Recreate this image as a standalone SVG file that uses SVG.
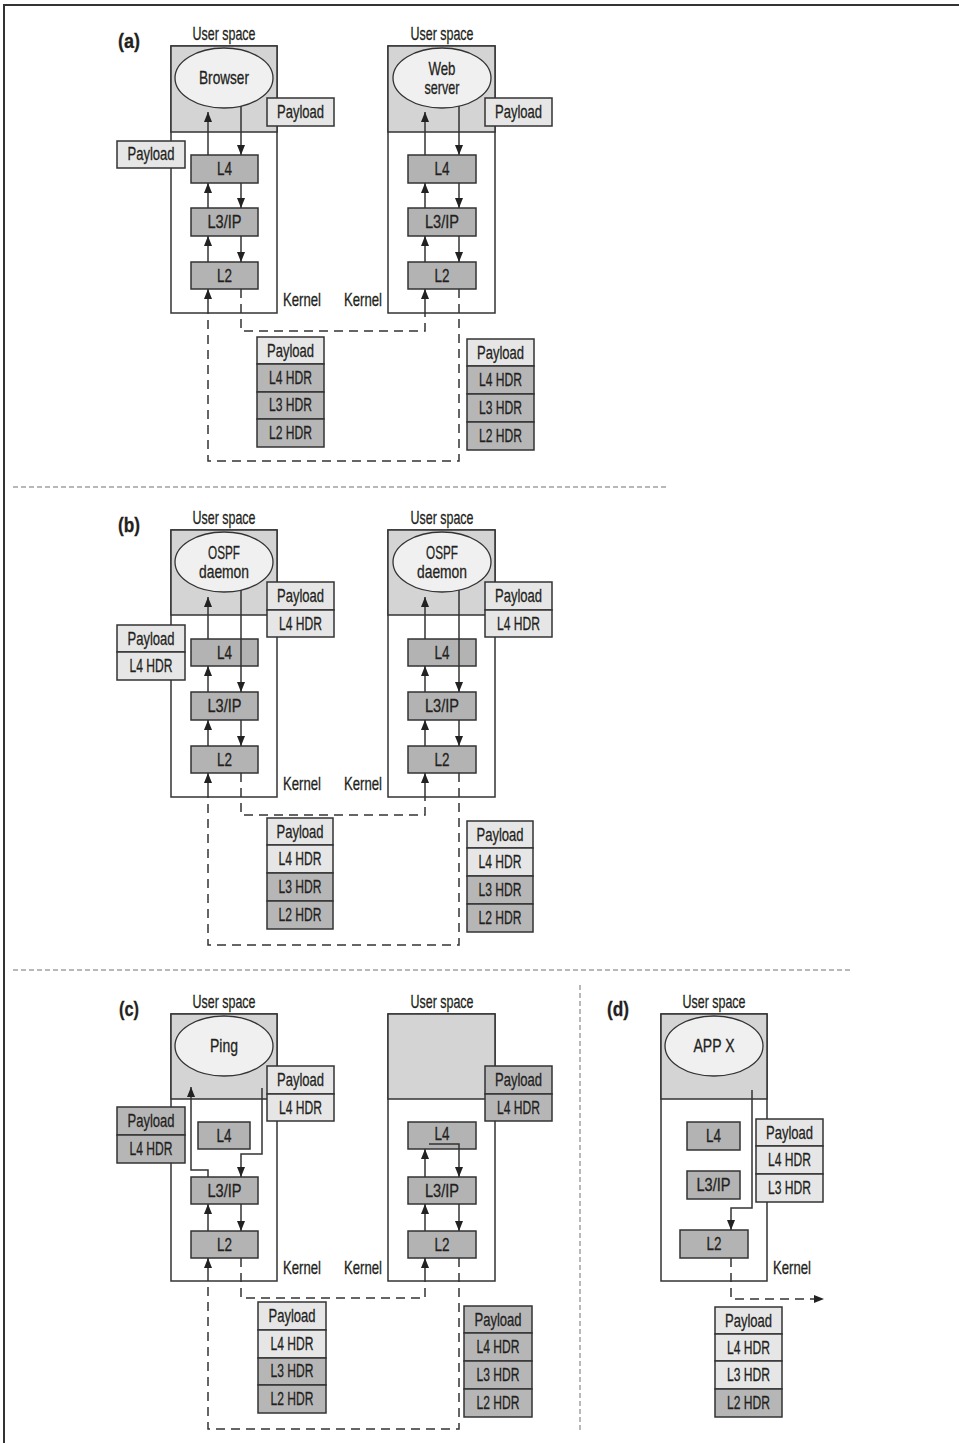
<svg xmlns="http://www.w3.org/2000/svg" width="959" height="1443" viewBox="0 0 959 1443">
<defs>
<style>
.bg{fill:#fff}
.k{fill:#fff;stroke:#333;stroke-width:1.5}
.us{fill:#d4d4d4;stroke:#333;stroke-width:1.5}
.ell{fill:#f0f0f0;stroke:#333;stroke-width:1.3}
.lay{fill:#b3b3b3;stroke:#333;stroke-width:1.5}
.lt{fill:#e6e6e6;stroke:#333;stroke-width:1.5}
.dk{fill:#b6b6b6;stroke:#333;stroke-width:1.5}
.ln{fill:none;stroke:#333;stroke-width:1.5}
.dash{fill:none;stroke:#333;stroke-width:1.5;stroke-dasharray:9 6}
.sep{fill:none;stroke:#b8b8b8;stroke-width:2;stroke-dasharray:5 3}
.frame{fill:none;stroke:#333;stroke-width:2}
text{font-family:"Liberation Sans",Arial,sans-serif;font-size:18.5px;fill:#231f20;stroke:#231f20;stroke-width:0.3;text-anchor:middle}
.lbl{font-weight:bold;font-size:20px}
</style>
<marker id="ah" markerUnits="userSpaceOnUse" markerWidth="10" markerHeight="8" viewBox="0 0 10 8" refX="10" refY="4" orient="auto">
<path d="M0,0 L10,4 L0,8 z" fill="#222"/>
</marker>
</defs>
<rect class="bg" x="0" y="0" width="959" height="1443"/>
<path class="frame" d="M4,1443 V5 H959"/>

<g id="separators">
<line class="sep" x1="13" y1="487" x2="668" y2="487"/>
<line class="sep" x1="13" y1="970" x2="852" y2="970"/>
<line class="sep" x1="580" y1="985" x2="580" y2="1433"/>
</g>

<!-- ============ (a) ============ -->
<g id="a-label"><text class="lbl" x="129" y="48" textLength="22" lengthAdjust="spacingAndGlyphs">(a)</text></g>
<g id="a-host1">
<text x="224" y="40" textLength="63" lengthAdjust="spacingAndGlyphs">User space</text>
<rect class="k" x="171" y="46" width="106" height="267"/>
<rect class="us" x="171" y="46" width="106" height="86"/>
<ellipse class="ell" cx="224" cy="78" rx="49" ry="30"/>
<text x="224" y="84" textLength="50" lengthAdjust="spacingAndGlyphs">Browser</text>
<text x="302" y="306" textLength="38" lengthAdjust="spacingAndGlyphs">Kernel</text>
</g>
<g id="a-host2">
<text x="442" y="40" textLength="63" lengthAdjust="spacingAndGlyphs">User space</text>
<rect class="k" x="388" y="46" width="107" height="267"/>
<rect class="us" x="388" y="46" width="107" height="86"/>
<ellipse class="ell" cx="442" cy="78" rx="49" ry="30"/>
<text x="442" y="75" textLength="27" lengthAdjust="spacingAndGlyphs">Web</text>
<text x="442" y="94" textLength="35" lengthAdjust="spacingAndGlyphs">server</text>
<text x="363" y="306" textLength="38" lengthAdjust="spacingAndGlyphs">Kernel</text>
</g>
<g id="a-l4-1"><rect class="lay" x="191" y="155" width="67" height="28"/><text x="224.5" y="175" textLength="15" lengthAdjust="spacingAndGlyphs">L4</text></g>
<g id="a-l3-1"><rect class="lay" x="191" y="208" width="67" height="28"/><text x="224.5" y="228" textLength="34" lengthAdjust="spacingAndGlyphs">L3/IP</text></g>
<g id="a-l2-1"><rect class="lay" x="191" y="262" width="67" height="27"/><text x="224.5" y="282" textLength="15" lengthAdjust="spacingAndGlyphs">L2</text></g>
<g id="a-l4-2"><rect class="lay" x="408" y="155" width="68" height="28"/><text x="442" y="175" textLength="15" lengthAdjust="spacingAndGlyphs">L4</text></g>
<g id="a-l3-2"><rect class="lay" x="408" y="208" width="68" height="28"/><text x="442" y="228" textLength="34" lengthAdjust="spacingAndGlyphs">L3/IP</text></g>
<g id="a-l2-2"><rect class="lay" x="408" y="262" width="68" height="27"/><text x="442" y="282" textLength="15" lengthAdjust="spacingAndGlyphs">L2</text></g>
<g id="a-pl-user1"><rect class="lt" x="267" y="98" width="67" height="28"/><text x="300.5" y="118" textLength="47" lengthAdjust="spacingAndGlyphs">Payload</text></g>
<g id="a-pl-left"><rect class="lt" x="117" y="141" width="68" height="27"/><text x="151" y="160" textLength="47" lengthAdjust="spacingAndGlyphs">Payload</text></g>
<g id="a-pl-user2"><rect class="lt" x="485" y="98" width="67" height="28"/><text x="518.5" y="118" textLength="47" lengthAdjust="spacingAndGlyphs">Payload</text></g>
<g id="a-stack1">
<rect class="lt" x="257" y="337" width="67" height="27"/><text x="290.5" y="357" textLength="47" lengthAdjust="spacingAndGlyphs">Payload</text>
<rect class="dk" x="257" y="364" width="67" height="28"/><text x="290.5" y="384" textLength="43" lengthAdjust="spacingAndGlyphs">L4 HDR</text>
<rect class="dk" x="257" y="392" width="67" height="27"/><text x="290.5" y="411" textLength="43" lengthAdjust="spacingAndGlyphs">L3 HDR</text>
<rect class="dk" x="257" y="419" width="67" height="28"/><text x="290.5" y="439" textLength="43" lengthAdjust="spacingAndGlyphs">L2 HDR</text>
</g>
<g id="a-stack2">
<rect class="lt" x="467" y="339" width="67" height="27"/><text x="500.5" y="359" textLength="47" lengthAdjust="spacingAndGlyphs">Payload</text>
<rect class="dk" x="467" y="366" width="67" height="28"/><text x="500.5" y="386" textLength="43" lengthAdjust="spacingAndGlyphs">L4 HDR</text>
<rect class="dk" x="467" y="394" width="67" height="28"/><text x="500.5" y="414" textLength="43" lengthAdjust="spacingAndGlyphs">L3 HDR</text>
<rect class="dk" x="467" y="422" width="67" height="28"/><text x="500.5" y="442" textLength="43" lengthAdjust="spacingAndGlyphs">L2 HDR</text>
</g>

<!-- ============ (b) ============ -->
<g id="b-label"><text class="lbl" x="129" y="532" textLength="22" lengthAdjust="spacingAndGlyphs">(b)</text></g>
<g id="b-host1">
<text x="224" y="524" textLength="63" lengthAdjust="spacingAndGlyphs">User space</text>
<rect class="k" x="171" y="530" width="106" height="267"/>
<rect class="us" x="171" y="530" width="106" height="85"/>
<ellipse class="ell" cx="224" cy="562" rx="49" ry="30"/>
<text x="224" y="559" textLength="32" lengthAdjust="spacingAndGlyphs">OSPF</text>
<text x="224" y="578" textLength="50" lengthAdjust="spacingAndGlyphs">daemon</text>
<text x="302" y="790" textLength="38" lengthAdjust="spacingAndGlyphs">Kernel</text>
</g>
<g id="b-host2">
<text x="442" y="524" textLength="63" lengthAdjust="spacingAndGlyphs">User space</text>
<rect class="k" x="388" y="530" width="107" height="267"/>
<rect class="us" x="388" y="530" width="107" height="85"/>
<ellipse class="ell" cx="442" cy="562" rx="49" ry="30"/>
<text x="442" y="559" textLength="32" lengthAdjust="spacingAndGlyphs">OSPF</text>
<text x="442" y="578" textLength="50" lengthAdjust="spacingAndGlyphs">daemon</text>
<text x="363" y="790" textLength="38" lengthAdjust="spacingAndGlyphs">Kernel</text>
</g>
<g id="b-l4-1"><rect class="lay" x="191" y="639" width="67" height="27"/><text x="224.5" y="659" textLength="15" lengthAdjust="spacingAndGlyphs">L4</text></g>
<g id="b-l3-1"><rect class="lay" x="191" y="692" width="67" height="28"/><text x="224.5" y="712" textLength="34" lengthAdjust="spacingAndGlyphs">L3/IP</text></g>
<g id="b-l2-1"><rect class="lay" x="191" y="746" width="67" height="27"/><text x="224.5" y="766" textLength="15" lengthAdjust="spacingAndGlyphs">L2</text></g>
<g id="b-l4-2"><rect class="lay" x="408" y="639" width="68" height="27"/><text x="442" y="659" textLength="15" lengthAdjust="spacingAndGlyphs">L4</text></g>
<g id="b-l3-2"><rect class="lay" x="408" y="692" width="68" height="28"/><text x="442" y="712" textLength="34" lengthAdjust="spacingAndGlyphs">L3/IP</text></g>
<g id="b-l2-2"><rect class="lay" x="408" y="746" width="68" height="27"/><text x="442" y="766" textLength="15" lengthAdjust="spacingAndGlyphs">L2</text></g>
<g id="b-pl-user1">
<rect class="lt" x="267" y="582" width="67" height="28"/><text x="300.5" y="602" textLength="47" lengthAdjust="spacingAndGlyphs">Payload</text>
<rect class="lt" x="267" y="610" width="67" height="27"/><text x="300.5" y="630" textLength="43" lengthAdjust="spacingAndGlyphs">L4 HDR</text>
</g>
<g id="b-pl-left">
<rect class="lt" x="117" y="625" width="68" height="27"/><text x="151" y="645" textLength="47" lengthAdjust="spacingAndGlyphs">Payload</text>
<rect class="lt" x="117" y="652" width="68" height="28"/><text x="151" y="672" textLength="43" lengthAdjust="spacingAndGlyphs">L4 HDR</text>
</g>
<g id="b-pl-user2">
<rect class="lt" x="485" y="582" width="67" height="28"/><text x="518.5" y="602" textLength="47" lengthAdjust="spacingAndGlyphs">Payload</text>
<rect class="lt" x="485" y="610" width="67" height="27"/><text x="518.5" y="630" textLength="43" lengthAdjust="spacingAndGlyphs">L4 HDR</text>
</g>
<g id="b-stack1">
<rect class="lt" x="267" y="818" width="66" height="27"/><text x="300" y="838" textLength="47" lengthAdjust="spacingAndGlyphs">Payload</text>
<rect class="lt" x="267" y="845" width="66" height="28"/><text x="300" y="865" textLength="43" lengthAdjust="spacingAndGlyphs">L4 HDR</text>
<rect class="dk" x="267" y="873" width="66" height="28"/><text x="300" y="893" textLength="43" lengthAdjust="spacingAndGlyphs">L3 HDR</text>
<rect class="dk" x="267" y="901" width="66" height="28"/><text x="300" y="921" textLength="43" lengthAdjust="spacingAndGlyphs">L2 HDR</text>
</g>
<g id="b-stack2">
<rect class="lt" x="467" y="821" width="66" height="27"/><text x="500" y="841" textLength="47" lengthAdjust="spacingAndGlyphs">Payload</text>
<rect class="lt" x="467" y="848" width="66" height="28"/><text x="500" y="868" textLength="43" lengthAdjust="spacingAndGlyphs">L4 HDR</text>
<rect class="dk" x="467" y="876" width="66" height="28"/><text x="500" y="896" textLength="43" lengthAdjust="spacingAndGlyphs">L3 HDR</text>
<rect class="dk" x="467" y="904" width="66" height="28"/><text x="500" y="924" textLength="43" lengthAdjust="spacingAndGlyphs">L2 HDR</text>
</g>

<!-- ============ (c) ============ -->
<g id="c-label"><text class="lbl" x="129" y="1016" textLength="20" lengthAdjust="spacingAndGlyphs">(c)</text></g>
<g id="c-host1">
<text x="224" y="1008" textLength="63" lengthAdjust="spacingAndGlyphs">User space</text>
<rect class="k" x="171" y="1014" width="106" height="267"/>
<rect class="us" x="171" y="1014" width="106" height="85"/>
<ellipse class="ell" cx="224" cy="1046" rx="49" ry="30"/>
<text x="224" y="1052" textLength="28" lengthAdjust="spacingAndGlyphs">Ping</text>
<text x="302" y="1274" textLength="38" lengthAdjust="spacingAndGlyphs">Kernel</text>
</g>
<g id="c-host2">
<text x="442" y="1008" textLength="63" lengthAdjust="spacingAndGlyphs">User space</text>
<rect class="k" x="388" y="1014" width="107" height="267"/>
<rect class="us" x="388" y="1014" width="107" height="85"/>
<text x="363" y="1274" textLength="38" lengthAdjust="spacingAndGlyphs">Kernel</text>
</g>
<g id="c-l4-1"><rect class="lay" x="198" y="1122" width="52" height="27"/><text x="224" y="1142" textLength="15" lengthAdjust="spacingAndGlyphs">L4</text></g>
<g id="c-l3-1"><rect class="lay" x="191" y="1177" width="67" height="27"/><text x="224.5" y="1197" textLength="34" lengthAdjust="spacingAndGlyphs">L3/IP</text></g>
<g id="c-l2-1"><rect class="lay" x="191" y="1231" width="67" height="27"/><text x="224.5" y="1251" textLength="15" lengthAdjust="spacingAndGlyphs">L2</text></g>
<g id="c-l4-2"><rect class="lay" x="408" y="1122" width="68" height="27"/><text x="442" y="1140" textLength="15" lengthAdjust="spacingAndGlyphs">L4</text></g>
<g id="c-l3-2"><rect class="lay" x="408" y="1177" width="68" height="27"/><text x="442" y="1197" textLength="34" lengthAdjust="spacingAndGlyphs">L3/IP</text></g>
<g id="c-l2-2"><rect class="lay" x="408" y="1231" width="68" height="27"/><text x="442" y="1251" textLength="15" lengthAdjust="spacingAndGlyphs">L2</text></g>
<g id="c-pl-user1">
<rect class="lt" x="267" y="1066" width="67" height="28"/><text x="300.5" y="1086" textLength="47" lengthAdjust="spacingAndGlyphs">Payload</text>
<rect class="lt" x="267" y="1094" width="67" height="27"/><text x="300.5" y="1114" textLength="43" lengthAdjust="spacingAndGlyphs">L4 HDR</text>
</g>
<g id="c-pl-left">
<rect class="dk" x="117" y="1107" width="68" height="28"/><text x="151" y="1127" textLength="47" lengthAdjust="spacingAndGlyphs">Payload</text>
<rect class="dk" x="117" y="1135" width="68" height="28"/><text x="151" y="1155" textLength="43" lengthAdjust="spacingAndGlyphs">L4 HDR</text>
</g>
<g id="c-pl-user2">
<rect class="dk" x="485" y="1066" width="67" height="28"/><text x="518.5" y="1086" textLength="47" lengthAdjust="spacingAndGlyphs">Payload</text>
<rect class="dk" x="485" y="1094" width="67" height="27"/><text x="518.5" y="1114" textLength="43" lengthAdjust="spacingAndGlyphs">L4 HDR</text>
</g>
<g id="c-stack1">
<rect class="lt" x="258" y="1302" width="68" height="28"/><text x="292" y="1322" textLength="47" lengthAdjust="spacingAndGlyphs">Payload</text>
<rect class="lt" x="258" y="1330" width="68" height="28"/><text x="292" y="1350" textLength="43" lengthAdjust="spacingAndGlyphs">L4 HDR</text>
<rect class="dk" x="258" y="1358" width="68" height="27"/><text x="292" y="1377" textLength="43" lengthAdjust="spacingAndGlyphs">L3 HDR</text>
<rect class="dk" x="258" y="1385" width="68" height="28"/><text x="292" y="1405" textLength="43" lengthAdjust="spacingAndGlyphs">L2 HDR</text>
</g>
<g id="c-stack2">
<rect class="dk" x="464" y="1306" width="68" height="27"/><text x="498" y="1326" textLength="47" lengthAdjust="spacingAndGlyphs">Payload</text>
<rect class="dk" x="464" y="1333" width="68" height="28"/><text x="498" y="1353" textLength="43" lengthAdjust="spacingAndGlyphs">L4 HDR</text>
<rect class="dk" x="464" y="1361" width="68" height="28"/><text x="498" y="1381" textLength="43" lengthAdjust="spacingAndGlyphs">L3 HDR</text>
<rect class="dk" x="464" y="1389" width="68" height="28"/><text x="498" y="1409" textLength="43" lengthAdjust="spacingAndGlyphs">L2 HDR</text>
</g>

<!-- ============ (d) ============ -->
<g id="d-label"><text class="lbl" x="618" y="1016" textLength="22" lengthAdjust="spacingAndGlyphs">(d)</text></g>
<g id="d-host">
<text x="714" y="1008" textLength="63" lengthAdjust="spacingAndGlyphs">User space</text>
<rect class="k" x="661" y="1014" width="106" height="267"/>
<rect class="us" x="661" y="1014" width="106" height="85"/>
<ellipse class="ell" cx="714" cy="1046" rx="49" ry="30"/>
<text x="714" y="1052" textLength="41" lengthAdjust="spacingAndGlyphs">APP X</text>
<text x="792" y="1274" textLength="38" lengthAdjust="spacingAndGlyphs">Kernel</text>
</g>
<g id="d-l4"><rect class="lay" x="687" y="1122" width="53" height="28"/><text x="713.5" y="1142" textLength="15" lengthAdjust="spacingAndGlyphs">L4</text></g>
<g id="d-l3"><rect class="lay" x="687" y="1171" width="53" height="28"/><text x="713.5" y="1191" textLength="34" lengthAdjust="spacingAndGlyphs">L3/IP</text></g>
<g id="d-l2"><rect class="lay" x="680" y="1230" width="68" height="28"/><text x="714" y="1250" textLength="15" lengthAdjust="spacingAndGlyphs">L2</text></g>
<g id="d-stack-k">
<rect class="lt" x="756" y="1119" width="67" height="27"/><text x="789.5" y="1139" textLength="47" lengthAdjust="spacingAndGlyphs">Payload</text>
<rect class="lt" x="756" y="1146" width="67" height="28"/><text x="789.5" y="1166" textLength="43" lengthAdjust="spacingAndGlyphs">L4 HDR</text>
<rect class="lt" x="756" y="1174" width="67" height="28"/><text x="789.5" y="1194" textLength="43" lengthAdjust="spacingAndGlyphs">L3 HDR</text>
</g>
<g id="d-stack-out">
<rect class="lt" x="715" y="1307" width="67" height="27"/><text x="748.5" y="1327" textLength="47" lengthAdjust="spacingAndGlyphs">Payload</text>
<rect class="lt" x="715" y="1334" width="67" height="27"/><text x="748.5" y="1354" textLength="43" lengthAdjust="spacingAndGlyphs">L4 HDR</text>
<rect class="lt" x="715" y="1361" width="67" height="28"/><text x="748.5" y="1381" textLength="43" lengthAdjust="spacingAndGlyphs">L3 HDR</text>
<rect class="dk" x="715" y="1389" width="67" height="28"/><text x="748.5" y="1409" textLength="43" lengthAdjust="spacingAndGlyphs">L2 HDR</text>
</g>

<!-- ============ connectors ============ -->
<g id="connectors">
<!-- (a) -->
<path class="ln" d="M208,155 V112" marker-end="url(#ah)"/>
<path class="ln" d="M241,106 V155" marker-end="url(#ah)"/>
<path class="ln" d="M208,208 V183" marker-end="url(#ah)"/>
<path class="ln" d="M241,183 V208" marker-end="url(#ah)"/>
<path class="ln" d="M208,262 V236" marker-end="url(#ah)"/>
<path class="ln" d="M241,236 V262" marker-end="url(#ah)"/>
<path class="ln" d="M208,313 V289" marker-end="url(#ah)"/>
<path class="ln" d="M425,155 V112" marker-end="url(#ah)"/>
<path class="ln" d="M459,106 V155" marker-end="url(#ah)"/>
<path class="ln" d="M425,208 V183" marker-end="url(#ah)"/>
<path class="ln" d="M459,183 V208" marker-end="url(#ah)"/>
<path class="ln" d="M425,262 V236" marker-end="url(#ah)"/>
<path class="ln" d="M459,236 V262" marker-end="url(#ah)"/>
<path class="ln" d="M425,313 V289" marker-end="url(#ah)"/>
<path class="dash" d="M241,289 V331 H425 V313"/>
<path class="dash" d="M459,289 V461 H208 V313"/>
<!-- (b) -->
<path class="ln" d="M208,639 V597" marker-end="url(#ah)"/>
<path class="ln" d="M241,590 V692" marker-end="url(#ah)"/>
<path class="ln" d="M208,692 V666" marker-end="url(#ah)"/>
<path class="ln" d="M208,746 V720" marker-end="url(#ah)"/>
<path class="ln" d="M241,720 V746" marker-end="url(#ah)"/>
<path class="ln" d="M208,797 V773" marker-end="url(#ah)"/>
<path class="ln" d="M425,639 V597" marker-end="url(#ah)"/>
<path class="ln" d="M459,590 V692" marker-end="url(#ah)"/>
<path class="ln" d="M425,692 V666" marker-end="url(#ah)"/>
<path class="ln" d="M425,746 V720" marker-end="url(#ah)"/>
<path class="ln" d="M459,720 V746" marker-end="url(#ah)"/>
<path class="ln" d="M425,797 V773" marker-end="url(#ah)"/>
<path class="dash" d="M241,773 V815 H425 V797"/>
<path class="dash" d="M459,773 V945 H208 V797"/>
<!-- (c) -->
<path class="ln" d="M208,1177 V1170 H191 V1087" marker-end="url(#ah)"/>
<path class="ln" d="M262,1088 V1154 H241 V1177" marker-end="url(#ah)"/>
<path class="ln" d="M208,1231 V1204" marker-end="url(#ah)"/>
<path class="ln" d="M241,1204 V1231" marker-end="url(#ah)"/>
<path class="ln" d="M208,1281 V1258" marker-end="url(#ah)"/>
<path class="ln" d="M425,1177 V1149" marker-end="url(#ah)"/>
<path class="ln" d="M429,1144 H459 V1177" marker-end="url(#ah)"/>
<path class="ln" d="M425,1231 V1204" marker-end="url(#ah)"/>
<path class="ln" d="M459,1204 V1231" marker-end="url(#ah)"/>
<path class="ln" d="M425,1281 V1258" marker-end="url(#ah)"/>
<path class="dash" d="M241,1258 V1298 H425 V1281"/>
<path class="dash" d="M459,1258 V1429 H208 V1281"/>
<!-- (d) -->
<path class="ln" d="M752,1090 V1208 H731 V1230" marker-end="url(#ah)"/>
<path class="dash" d="M731,1258 V1299 H824" marker-end="url(#ah)"/>
</g>
</svg>
